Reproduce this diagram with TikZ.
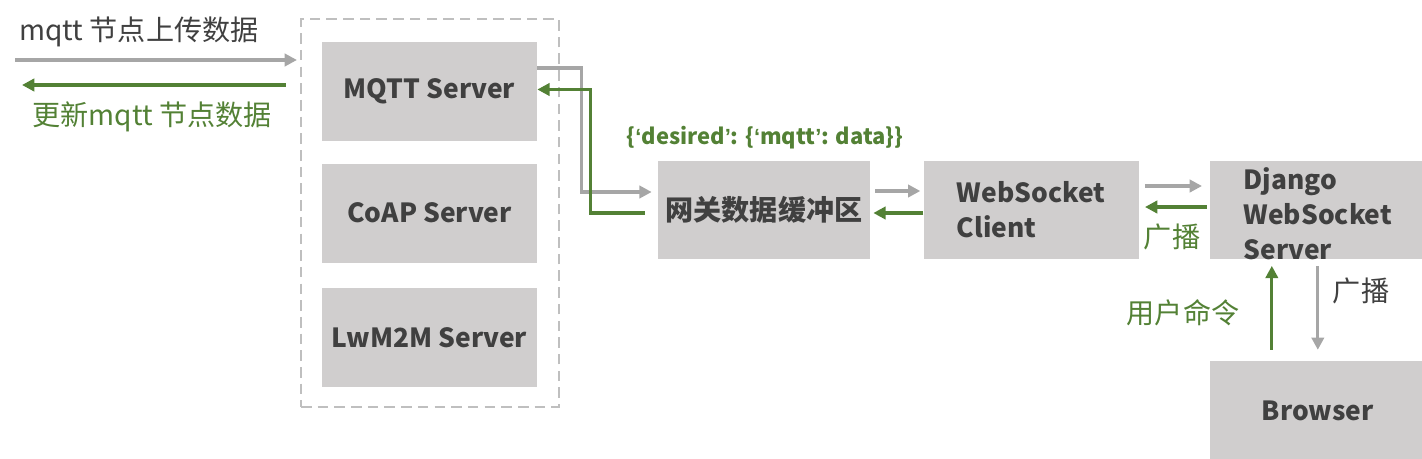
\documentclass[tikz,border=0pt]{standalone}
\usepackage{fontspec}
\setmainfont{Noto Sans CJK SC}
\newfontfamily\quotefont{Liberation Sans}
\newcommand\openq{{\quotefont ‘}}
\newcommand\closeq{{\quotefont ’}}
\usetikzlibrary{arrows.meta, positioning}
\definecolor{boxgray}{HTML}{D0CECE}
\definecolor{textgray}{HTML}{404040}
\definecolor{linegray}{HTML}{A6A6A6}
\definecolor{dashgray}{HTML}{BFBFBF}
\definecolor{darkgreen}{HTML}{538135}

\begin{document}
\begin{tikzpicture}[
  x=0.02cm, y=-0.02cm,
  font=\fontsize{16}{20}\selectfont,
  box/.style={fill=boxgray, text=textgray, font=\fontsize{15}{20}\selectfont\bfseries, minimum width=4.3cm, minimum height=1.98cm, inner sep=0pt, align=left},
  group/.style={draw=dashgray, line width=1.2pt, dash pattern=on 6pt off 3.5pt, minimum width=5.16cm, minimum height=7.76cm, inner sep=0pt},
  grayarrow/.style={-{Triangle[length=7pt,width=7pt]}, draw=linegray, line width=1.8pt},
  greenarrow/.style={-{Triangle[length=7pt,width=7pt]}, draw=darkgreen, line width=1.8pt},
  note/.style={text=textgray, inner sep=0pt},
  greennote/.style={text=darkgreen, inner sep=0pt},
]
\useasboundingbox (0,0) rectangle (1422,459);

% Nodes
\node[group] (servers) at (430,213) {};
\node[box] (mqtt) at (429.5,91.5) {MQTT Server};
\node[box, below=0.44cm of mqtt] (coap) {CoAP Server};
\node[box, below=0.5cm of coap] (lwm2m) {LwM2M Server};
\node[box, minimum width=4.24cm, font=\fontsize{16}{20}\selectfont\bfseries] (buffer) at (764,210) {网关数据缓冲区};
\node[box, right=1.06cm of buffer] (client) {WebSocket\\Client};
\node[box, right=1.42cm of client] (django) {};
\node[box, fill=none] (djangotext) at ([yshift=-0.08cm]django.center) {Django\\WebSocket\\Server};
\node[box, below=2.02cm of django] (browser) {Browser};

% Labels
\node[note] (uplabel) at (139,32) {mqtt 节点上传数据};
\node[greennote] (downlabel) at (152,117) {更新mqtt 节点数据};
\node[greennote, font=\fontsize{12.5}{16}\selectfont\bfseries] (desired) at (765,138) {\{\openq desired\closeq: \{\openq mqtt\closeq: data\}\}};
\node[greennote] (bcastleft) at (1172,237) {广播};
\node[greennote] (usercmd) at (1183,313) {用户命令};
\node[note] (bcastdown) at (1361,291) {广播};

\coordinate (upstart) at (15,60);
\coordinate (downend) at (22,85);

% Arrows
\draw[grayarrow, shorten >=0.06cm] (upstart) -- (upstart -| servers.west);
\draw[greenarrow, shorten <=0.28cm] (downend -| servers.west) -- (downend);
\draw[grayarrow, shorten >=0.12cm] ([yshift=0.47cm]mqtt.east) -- ++(44,0) |- ([yshift=0.36cm]buffer.west);
\draw[greenarrow, shorten <=0.26cm] ([yshift=-0.06cm]buffer.west) -- ++(-67,0) |- ([yshift=0.04cm]mqtt.east);
\draw[grayarrow, shorten <=0.1cm, shorten >=0.06cm] ([yshift=0.38cm]buffer.east) -- ([yshift=0.38cm]client.west);
\draw[greenarrow, shorten >=0.06cm] ([yshift=-0.06cm]client.west) -- ([yshift=-0.06cm]buffer.east);
\draw[grayarrow, shorten <=0.12cm, shorten >=0.16cm] ([yshift=0.48cm]client.east) -- ([yshift=0.48cm]django.west);
\draw[greenarrow, shorten <=0.06cm, shorten >=0.12cm] ([yshift=0.06cm]django.west) -- ([yshift=0.06cm]client.east);
\draw[greenarrow, shorten <=0.22cm, shorten >=0.12cm] ([xshift=-0.92cm]browser.north) -- ([xshift=-0.92cm]django.south);
\draw[grayarrow, shorten <=0.12cm, shorten >=0.22cm] (django.south) -- (browser.north);

\end{tikzpicture}
\end{document}
